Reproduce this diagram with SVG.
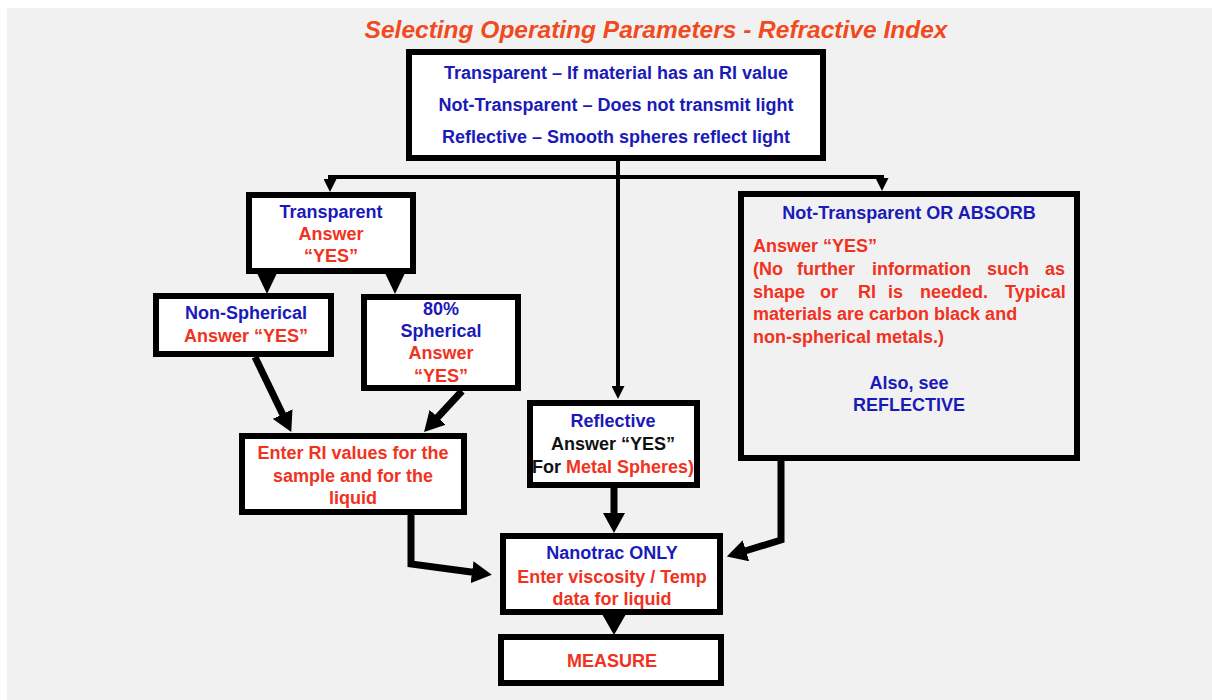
<svg xmlns="http://www.w3.org/2000/svg" width="1212" height="700" viewBox="0 0 1212 700">
  <defs>
    <style>
      text { font-family: "Liberation Sans", Arial, sans-serif; font-weight: bold; font-size: 18px; }
      .c { text-anchor: middle; }
      .b { fill: #1a1ab8; }
      .r { fill: #f0321e; }
      .k { fill: #111111; }
      .title { font-style: italic; font-size: 24.5px; fill: #f04a1e; text-anchor: middle; }
      .box { fill: #ffffff; stroke: #000000; stroke-width: 6; }
      .boxg { fill: #f1f1f1; stroke: #000000; stroke-width: 6; }
      .thin { fill: none; stroke: #000000; stroke-width: 4; }
      .thick { fill: none; stroke: #000000; stroke-width: 7; }
    </style>
    <marker id="arrS" viewBox="0 0 13 13" refX="1" refY="6.5" markerWidth="13" markerHeight="13" markerUnits="userSpaceOnUse" orient="auto">
      <path d="M0,0 L13,6.5 L0,13 Z" fill="#000"/>
    </marker>
    <marker id="arrB" viewBox="0 0 20 22" refX="1" refY="11" markerWidth="20" markerHeight="22" markerUnits="userSpaceOnUse" orient="auto">
      <path d="M0,0 L20,11 L0,22 Z" fill="#000"/>
    </marker>
  </defs>

  <rect x="0" y="0" width="1212" height="700" fill="#ffffff"/>
  <rect x="7" y="8" width="1210" height="700" fill="#f1f1f1"/>

  <text class="title" x="656" y="38">Selecting Operating Parameters - Refractive Index</text>

  <g id="connectors">
    <path class="thin" d="M618,161 V387" marker-end="url(#arrS)"/>
    <path class="thin" d="M330,177 H882"/>
    <path class="thin" d="M330,175 V180" marker-end="url(#arrS)"/>
    <path class="thin" d="M882,175 V179" marker-end="url(#arrS)"/>
    <polygon points="257,273 277,273 267,294" fill="#000"/>
    <polygon points="385,273 405,273 395,294" fill="#000"/>
    <path class="thick" d="M255,357 L283,415" marker-end="url(#arrB)"/>
    <path class="thick" d="M462,391 L437,418" marker-end="url(#arrB)"/>
    <path class="thick" d="M411,515 V564 L473,572.3" marker-end="url(#arrB)"/>
    <path class="thick" d="M614,487 V514" marker-end="url(#arrB)"/>
    <path class="thick" d="M781,460 V540 L745,551" marker-end="url(#arrB)"/>
    <polygon points="602,614 626,614 614,635" fill="#000"/>
  </g>

  <g id="node-top">
    <rect class="box" x="409" y="52" width="414" height="106"/>
    <text class="c b" x="616" y="79">Transparent – If material has an RI value</text>
    <text class="c b" x="616" y="111">Not-Transparent – Does not transmit light</text>
    <text class="c b" x="616" y="143">Reflective – Smooth spheres reflect light</text>
  </g>

  <g id="node-transparent">
    <rect class="box" x="249" y="195" width="164" height="76"/>
    <text class="c b" x="331" y="218">Transparent</text>
    <text class="c r" x="331" y="240">Answer</text>
    <text class="c r" x="331" y="262">“YES”</text>
  </g>

  <g id="node-nonspherical">
    <rect class="box" x="156" y="296" width="175" height="58"/>
    <text class="c b" x="246" y="319">Non-Spherical</text>
    <text class="c r" x="246" y="342">Answer “YES”</text>
  </g>

  <g id="node-spherical">
    <rect class="box" x="364" y="297" width="154" height="91"/>
    <text class="c b" x="441" y="315">80%</text>
    <text class="c b" x="441" y="337">Spherical</text>
    <text class="c r" x="441" y="359">Answer</text>
    <text class="c r" x="441" y="382">“YES”</text>
  </g>

  <g id="node-enter-ri">
    <rect class="box" x="242" y="436" width="222" height="76"/>
    <text class="c r" x="353" y="459">Enter RI values for the</text>
    <text class="c r" x="353" y="482">sample and for the</text>
    <text class="c r" x="353" y="504">liquid</text>
  </g>

  <g id="node-reflective">
    <rect class="box" x="530" y="403" width="167" height="82"/>
    <text class="c b" x="613" y="427">Reflective</text>
    <text class="c k" x="613" y="450">Answer “YES”</text>
    <text class="c" x="613" y="473"><tspan class="k">For </tspan><tspan class="r">Metal Spheres)</tspan></text>
  </g>

  <g id="node-not-transparent">
    <rect class="boxg" x="741" y="194" width="336" height="264"/>
    <text class="c b" x="909" y="219">Not-Transparent OR ABSORB</text>
    <text class="r" x="753" y="252">Answer “YES”</text>
    <text class="r" y="275"><tspan x="753">(No</tspan><tspan x="797">further</tspan><tspan x="872">information</tspan><tspan x="987">such</tspan><tspan x="1045">as</tspan></text>
    <text class="r" y="298"><tspan x="753">shape</tspan><tspan x="820">or</tspan><tspan x="858">RI</tspan><tspan x="888">is</tspan><tspan x="920">needed.</tspan><tspan x="1005">Typical</tspan></text>
    <text class="r" x="753" y="320">materials are carbon black and</text>
    <text class="r" x="753" y="343">non-spherical metals.)</text>
    <text class="c b" x="909" y="389">Also, see</text>
    <text class="c b" x="909" y="411">REFLECTIVE</text>
  </g>

  <g id="node-nanotrac">
    <rect class="box" x="503" y="536" width="217" height="76"/>
    <text class="c b" x="612" y="559">Nanotrac ONLY</text>
    <text class="c r" x="612" y="583">Enter viscosity / Temp</text>
    <text class="c r" x="612" y="605">data for liquid</text>
  </g>

  <g id="node-measure">
    <rect class="box" x="501" y="637" width="220" height="46"/>
    <text class="c r" x="612" y="667">MEASURE</text>
  </g>
</svg>
